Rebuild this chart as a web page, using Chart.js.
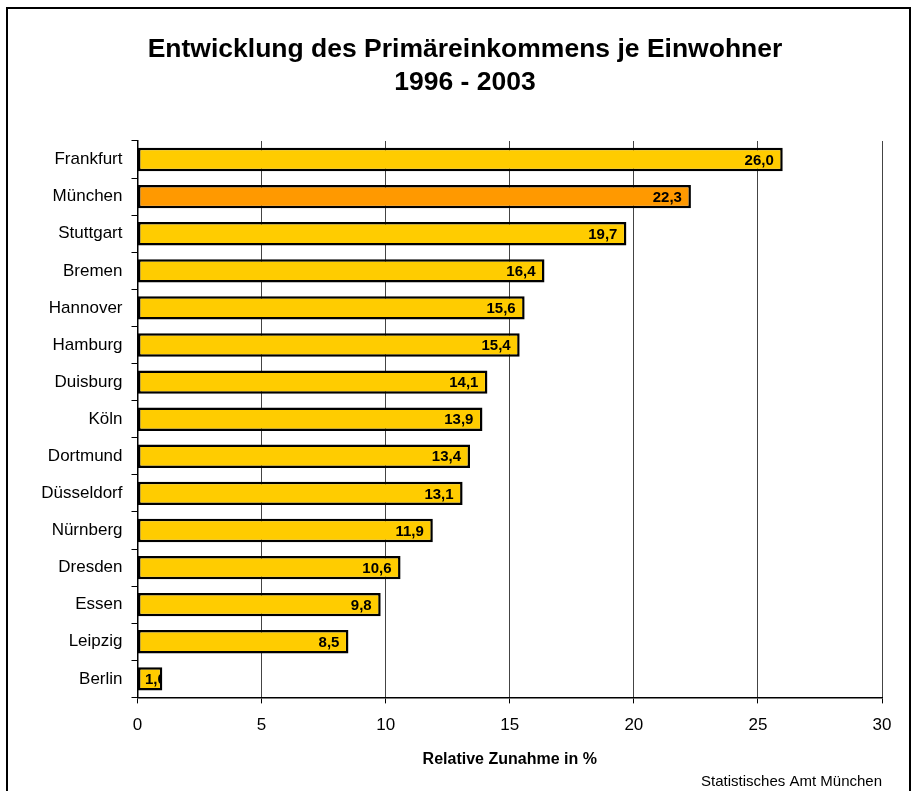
<!DOCTYPE html>
<html>
<head>
<meta charset="utf-8">
<script src="https://cdn.jsdelivr.net/npm/chart.js@4/dist/chart.umd.min.js"></script>
<style>
    html, body { margin: 0; padding: 0; background: #ffffff; }
    #wrap { width: 916px; height: 791px; position: relative; }
</style>
</head>
<body>
<div id="wrap"><canvas id="chart" width="916" height="791"></canvas></div>
<script>
// data
var cities = ["Frankfurt", "München", "Stuttgart", "Bremen", "Hannover", "Hamburg", "Duisburg", "Köln",
    "Dortmund", "Düsseldorf", "Nürnberg", "Dresden", "Essen", "Leipzig", "Berlin"]
var zunahme = [26.0, 22.3, 19.7, 16.4, 15.6, 15.4, 14.1, 13.9, 13.4, 13.1, 11.9, 10.6, 9.8, 8.5, 1.0]
var x_ticks = [0, 5, 10, 15, 20, 25, 30]
var title_lines = ["Entwicklung des Primäreinkommens je Einwohner", "1996 - 2003"]
var x_title = "Relative Zunahme in %"
var source_text = "Statistisches Amt München"

var font_family = "'Liberation Sans', Arial, Helvetica, sans-serif"
var yellow = "#ffcc00"
var orange = "#ff9900"

function formatValue(v) {
    return v.toFixed(1).replace(".", ",")
}

// black frame round the whole chart (bottom edge runs off the picture)
var framePlugin = {
    id: "frame",
    beforeDraw(chart) {
        let ctx = chart.ctx
        ctx.save()
        ctx.fillStyle = "#ffffff"
        ctx.fillRect(0, 0, chart.width, chart.height)
        ctx.strokeStyle = "#000000"
        ctx.lineWidth = 2
        ctx.strokeRect(7, 8, 903, chart.height + 20)
        ctx.restore()
    }
}

// value labels at the inner end of each bar, clipped to the bar
var valueLabelPlugin = {
    id: "valueLabels",
    afterDatasetsDraw(chart) {
        let ctx = chart.ctx
        let meta = chart.getDatasetMeta(0)
        ctx.save()
        ctx.font = "bold 15px " + font_family
        ctx.fillStyle = "#000000"
        ctx.textBaseline = "middle"
        meta.data.forEach((bar, i) => {
            let text = formatValue(zunahme[i])
            let w = ctx.measureText(text).width
            let props = bar.getProps(["x", "y", "base", "height"], true)
            let x = props.x - 9
            if (x - w < props.base + 6) {
                x = props.base + 7 + w
            }
            ctx.save()
            ctx.beginPath()
            ctx.rect(props.base, props.y - props.height / 2, props.x - props.base - 1, props.height)
            ctx.clip()
            ctx.textAlign = "right"
            ctx.fillText(text, x, props.y + 1)
            ctx.restore()
        })
        ctx.restore()
    }
}

Chart.defaults.font.family = font_family
Chart.defaults.color = "#000000"

new Chart(document.getElementById("chart").getContext("2d"), {
    "type": "bar",
    "data": {
        "labels": cities,
        "datasets": [{
            "data": zunahme,
            "backgroundColor": cities.map(c => c === "München" ? orange : yellow),
            "borderColor": "#000000",
            "borderWidth": 2.5,
            "borderSkipped": false,
            "barPercentage": 0.63,
            "categoryPercentage": 1.0
        }]
    },
    "options": {
        "indexAxis": "y",
        "responsive": false,
        "animation": false,
        "devicePixelRatio": 1,
        "layout": {
            "padding": { "top": 12, "left": 30, "right": 16, "bottom": 0 }
        },
        "plugins": {
            "legend": { "display": false },
            "tooltip": { "enabled": false },
            "title": {
                "display": true,
                "text": title_lines,
                "color": "#000000",
                "font": { "size": 26.5, "weight": "bold", "lineHeight": 1.245 },
                "padding": { "top": 21, "bottom": 42 }
            },
            "subtitle": {
                "display": true,
                "position": "bottom",
                "align": "end",
                "fullSize": false,
                "text": source_text,
                "color": "#000000",
                "font": { "size": 15, "weight": "normal", "lineHeight": 1.2 },
                "padding": { "top": 0, "bottom": 0 }
            }
        },
        "scales": {
            "x": {
                "min": 0,
                "max": 30,
                "afterBuildTicks": (scale) => {
                    scale.ticks = x_ticks.map(v => ({ "value": v }))
                },
                "ticks": {
                    "font": { "size": 17 },
                    "padding": 12,
                    "color": "#000000"
                },
                "grid": {
                    "color": "#444444",
                    "lineWidth": 1,
                    "tickLength": 6,
                    "tickColor": "#000000"
                },
                "border": { "color": "#000000", "width": 1.5 },
                "title": {
                    "display": true,
                    "text": x_title,
                    "color": "#000000",
                    "font": { "size": 16, "weight": "bold", "lineHeight": 1.2 },
                    "padding": { "top": 2, "bottom": 4 }
                }
            },
            "y": {
                "afterFit": (scale) => {
                    scale.width = 107.5
                },
                "ticks": {
                    "font": { "size": 17 },
                    "padding": 9,
                    "color": "#000000"
                },
                "grid": {
                    "offset": true,
                    "drawOnChartArea": false,
                    "tickLength": 6,
                    "tickColor": "#000000"
                },
                "border": { "color": "#000000", "width": 1.5 }
            },
            // empty spacer on the right so the plot ends at 30 while the title stays centred in the frame
            "spacer": {
                "type": "category",
                "position": "right",
                "ticks": { "display": false },
                "grid": { "display": false },
                "border": { "display": false },
                "afterFit": (scale) => {
                    scale.width = 18
                }
            }
        }
    },
    "plugins": [framePlugin, valueLabelPlugin]
})
</script>
</body>
</html>
